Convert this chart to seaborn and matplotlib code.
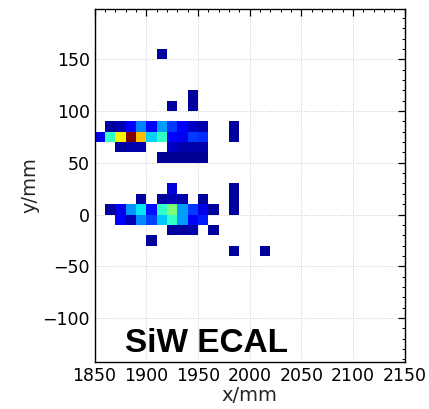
import numpy as np
import pandas as pd
import matplotlib
matplotlib.use("Agg")
import matplotlib.pyplot as plt
import seaborn as sns
from matplotlib.ticker import MultipleLocator

# Lower-left corner of each 10 mm x 10 mm cell and its (relative) deposited energy
x_mm = [
    # upper cluster
    1860, 1870, 1880, 1890, 1900, 1910, 1920, 1930, 1940, 1950, 1980,
    1850, 1860, 1870, 1880, 1890, 1900, 1910, 1920, 1930, 1940, 1950, 1980,
    1870, 1880, 1890, 1920, 1930, 1940, 1950,
    1910, 1920, 1930, 1940, 1950,
    1920, 1940, 1940, 1910,
    # lower cluster
    1920, 1980,
    1890, 1910, 1920, 1930, 1950, 1980,
    1860, 1870, 1880, 1890, 1900, 1910, 1920, 1930, 1940, 1950, 1960, 1980,
    1870, 1880, 1890, 1900, 1910, 1920, 1930, 1940, 1950,
    1920, 1930, 1940, 1960,
    1900,
    1980, 2010,
]
y_mm = [
    80, 80, 80, 80, 80, 80, 80, 80, 80, 80, 80,
    70, 70, 70, 70, 70, 70, 70, 70, 70, 70, 70, 70,
    60, 60, 60, 60, 60, 60, 60,
    50, 50, 50, 50, 50,
    100, 100, 110, 150,
    20, 20,
    10, 10, 10, 10, 10, 10,
    0, 0, 0, 0, 0, 0, 0, 0, 0, 0, 0, 0,
    -10, -10, -10, -10, -10, -10, -10, -10, -10,
    -20, -20, -20, -20,
    -30,
    -40, -40,
]
energy = [
    0.03, 0.04, 0.11, 0.25, 0.11, 0.28, 0.18, 0.12, 0.06, 0.04, 0.03,
    0.10, 0.41, 0.65, 1.00, 0.71, 0.33, 0.41, 0.12, 0.10, 0.18, 0.17, 0.03,
    0.03, 0.04, 0.04, 0.06, 0.04, 0.04, 0.04,
    0.02, 0.02, 0.02, 0.02, 0.02,
    0.03, 0.03, 0.03, 0.03,
    0.08, 0.03,
    0.03, 0.03, 0.05, 0.04, 0.03, 0.03,
    0.03, 0.10, 0.27, 0.35, 0.14, 0.41, 0.50, 0.28, 0.18, 0.09, 0.03, 0.03,
    0.12, 0.05, 0.26, 0.19, 0.32, 0.41, 0.28, 0.12, 0.15,
    0.03, 0.03, 0.04, 0.03,
    0.03,
    0.03, 0.03,
]

x_ticks = [1850, 1900, 1950, 2000, 2050, 2100, 2150]
y_ticks = [-100, -50, 0, 50, 100, 150]

sns.set_style("white")
plt.rcParams["font.family"] = ["DejaVu Sans"]

fig = plt.figure(figsize=(4.29, 4.09), dpi=100)
ax = fig.add_axes([0.2203, 0.1149, 0.7231, 0.863])

df = pd.DataFrame({
    "x": np.asarray(x_mm, float) + 5,
    "y": np.asarray(y_mm, float) + 5,
    "w": energy,
})
sns.histplot(data=df, x="x", y="y", weights="w", binwidth=10,
             binrange=((1850, 2150), (-150, 200)),
             cmap=matplotlib.colormaps["jet"],
             vmin=0, vmax=1, ax=ax, zorder=2)

ax.set_xlim(1850, 2150)
ax.set_ylim(-142.5, 198.5)
ax.set_xticks(x_ticks)
ax.set_yticks(y_ticks)
ax.xaxis.set_minor_locator(MultipleLocator(10))
ax.yaxis.set_minor_locator(MultipleLocator(10))
ax.tick_params(which="both", direction="in", top=True, right=True,
               colors="black", labelsize=12.5)
ax.tick_params(which="major", length=5, width=0.9)
ax.tick_params(which="minor", length=2.5, width=0.7)
ax.grid(True, which="major", linestyle=":", color="#cccccc", linewidth=0.7, zorder=0)
ax.set_axisbelow(True)
for s in ax.spines.values():
    s.set_color("black")
    s.set_linewidth(1.0)

ax.set_xlabel("x/mm", fontsize=14, labelpad=1)
ax.set_ylabel("y/mm", fontsize=14, labelpad=2)

ax.text(0.097, 0.028, "SiW ECAL", transform=ax.transAxes, fontsize=24,
        fontweight="bold", family=["Liberation Sans", "DejaVu Sans"],
        ha="left", va="baseline", color="black")

fig.savefig("out.png", dpi=100)
